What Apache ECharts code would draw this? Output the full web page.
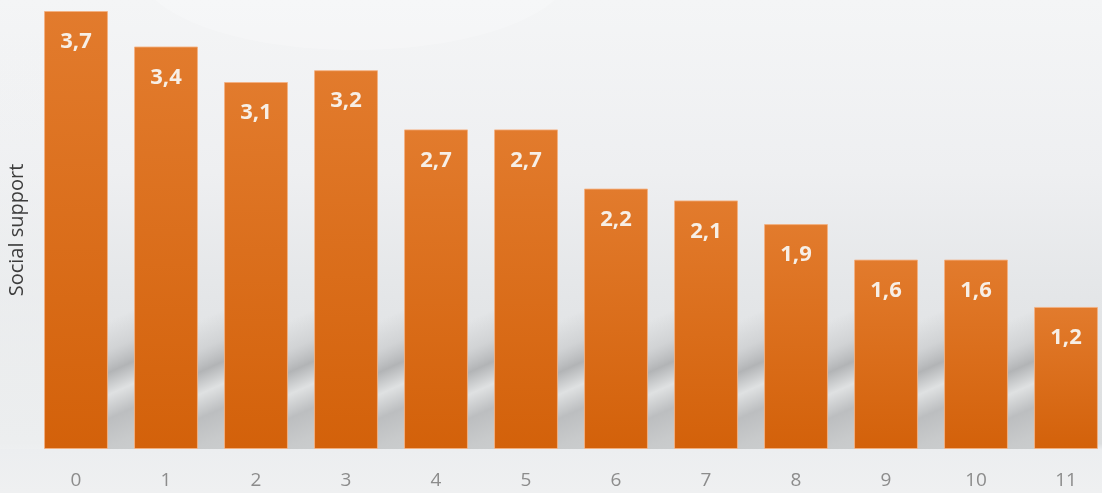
<!DOCTYPE html>
<html>
<head>
<meta charset="utf-8">
<script src="https://cdn.jsdelivr.net/npm/echarts@6/dist/echarts.min.js"></script>
<style>
  html, body { margin: 0; padding: 0; background: #eef0f1; }
  #chart { width: 1102px; height: 493px; }
</style>
</head>
<body>
<div id="chart"></div>
<script>
// Categories on the x axis
const categories = ['0', '1', '2', '3', '4', '5', '6', '7', '8', '9', '10', '11'];
// Mean social support per category
const socialSupport = [3.7, 3.4, 3.1, 3.2, 2.7, 2.7, 2.2, 2.1, 1.9, 1.6, 1.6, 1.2];
// Axis caption
const yAxisTitle = 'Social support';

const BAR_RATIO = 0.71;
const chart = echarts.init(document.getElementById('chart'), null, { renderer: 'canvas' });

// Soft floor shading visible in the gaps between neighbouring bars
function renderGapShade(params, api) {
  const i = params.dataIndex;
  if (i >= categories.length - 1) return null;
  const band = api.size([1, 0])[0];
  const bw = band * BAR_RATIO;
  const base = api.coord([i, 0]);
  const next = api.coord([i + 1, 0]);
  const top = api.coord([i, 1.3])[1];
  const x0 = base[0] + bw / 2;
  const x1 = next[0] - bw / 2;
  const h = base[1] - top;
  const grad = new echarts.graphic.LinearGradient(
    x0, top, x0 + h * 0.45, top + h,
    [
      { offset: 0.0, color: 'rgba(205,207,209,0)' },
      { offset: 0.14, color: 'rgba(205,207,209,0)' },
      { offset: 0.3, color: 'rgba(205,207,209,0.8)' },
      { offset: 0.42, color: '#b2b4b6' },
      { offset: 0.54, color: '#dfe1e2' },
      { offset: 0.67, color: '#bcbec0' },
      { offset: 0.82, color: '#c8cacb' },
      { offset: 1.0, color: '#cdd0d1' }
    ], true);
  return {
    type: 'rect',
    shape: { x: x0, y: top, width: x1 - x0, height: h },
    style: { fill: grad }
  };
}

const option = {
  animation: false,
  backgroundColor: '#eef0f1',
  graphic: [
    {
      type: 'rect', z: -10, silent: true,
      shape: { x: 0, y: 0, width: 1102, height: 493 },
      style: {
        fill: new echarts.graphic.LinearGradient(0, 0, 0, 1, [
          { offset: 0, color: '#f4f5f6' },
          { offset: 0.35, color: '#eeeff1' },
          { offset: 0.6, color: '#e4e6e8' },
          { offset: 0.9, color: '#dcdedf' },
          { offset: 0.912, color: '#eceef0' },
          { offset: 1, color: '#eff0f1' }
        ])
      }
    },
    {
      type: 'rect', z: -9, silent: true,
      shape: { x: 0, y: 0, width: 44, height: 449 },
      style: {
        fill: new echarts.graphic.LinearGradient(0, 0, 0, 1, [
          { offset: 0, color: 'rgba(244,245,246,0)' },
          { offset: 1, color: 'rgba(238,240,241,0.9)' }
        ])
      }
    },
    {
      type: 'ellipse', z: -9, silent: true,
      shape: { cx: 355, cy: -30, rx: 215, ry: 80 },
      style: { fill: 'rgba(255,255,255,0.22)' }
    }
  ],
  grid: { left: 31, right: -9, top: 11, bottom: 44, outerBoundsMode: 'none' },
  xAxis: {
    type: 'category',
    data: categories,
    axisLine: { show: false },
    axisTick: { show: false },
    axisLabel: {
      color: '#8c8c8c',
      fontFamily: 'Open Sans',
      fontSize: 19,
      margin: 22
    }
  },
  yAxis: {
    type: 'value',
    min: 0,
    max: 3.7,
    splitLine: { show: false },
    axisLine: { show: false },
    axisTick: { show: false },
    axisLabel: { show: false },
    name: yAxisTitle,
    nameLocation: 'middle',
    nameRotate: 90,
    nameGap: 4,
    nameTextStyle: {
      color: '#3c3c3c',
      fontFamily: 'Open Sans',
      fontSize: 20
    }
  },
  series: [
    {
      type: 'custom',
      silent: true,
      z: 1,
      renderItem: renderGapShade,
      data: categories.map((c, i) => i)
    },
    {
      type: 'bar',
      z: 3,
      data: socialSupport,
      barWidth: (BAR_RATIO * 100) + '%',
      itemStyle: {
        color: new echarts.graphic.LinearGradient(0, 0, 0, 1, [
          { offset: 0, color: '#e27b2d' },
          { offset: 1, color: '#d3610a' }
        ]),
        borderColor: 'rgba(244,176,128,0.85)',
        borderWidth: 1
      },
      label: {
        show: true,
        position: 'insideTop',
        distance: 20,
        color: '#f7efe6',
        fontFamily: 'Open Sans',
        fontWeight: 'bold',
        fontSize: 22,
        formatter: p => p.value.toFixed(1).replace('.', ',')
      }
    }
  ]
};

chart.setOption(option);
</script>
</body>
</html>
